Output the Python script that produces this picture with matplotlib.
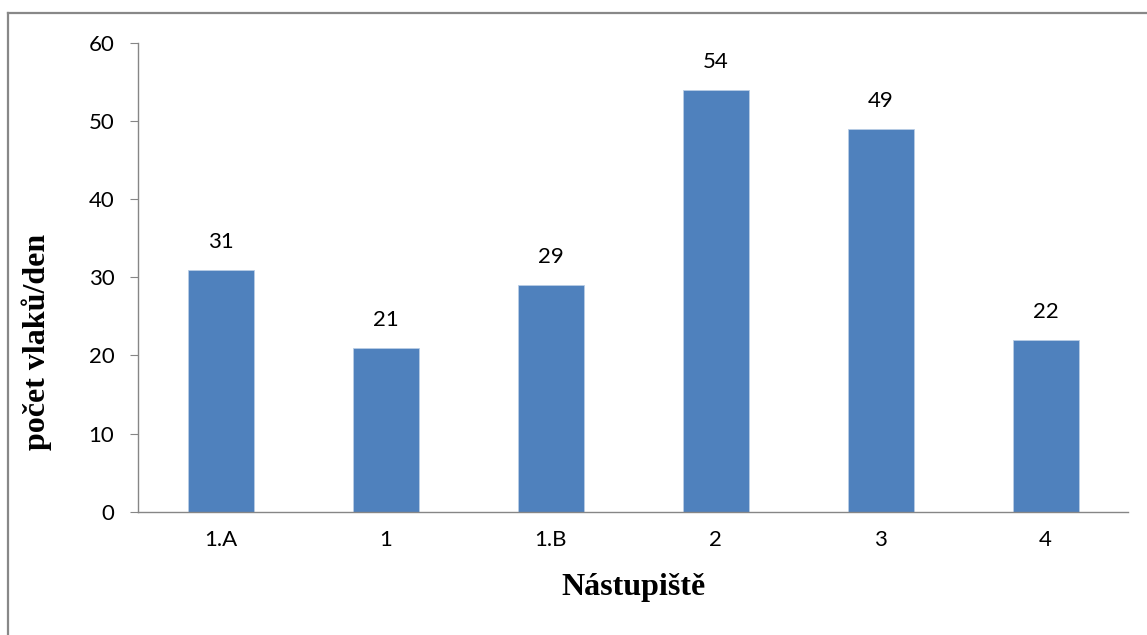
import matplotlib
matplotlib.use("Agg")
import matplotlib.pyplot as plt
from matplotlib.lines import Line2D

categories = ["1.A", "1", "1.B", "2", "3", "4"]
values = [31, 21, 29, 54, 49, 22]
yticks = [0, 10, 20, 30, 40, 50, 60]

W, H, DPI = 1147, 635, 100
fig = plt.figure(figsize=(W / DPI, H / DPI), dpi=DPI)
fig.patch.set_facecolor("white")

# outer chart border (top and left visible)
fig.add_artist(Line2D([8 / W, 8 / W], [0, 1 - 13 / H], transform=fig.transFigure,
                      color="#888888", lw=1.6))
fig.add_artist(Line2D([8 / W, 1], [1 - 13 / H, 1 - 13 / H], transform=fig.transFigure,
                      color="#888888", lw=1.6))

ax = fig.add_axes([138 / W, 1 - 511.7 / H, (1128 - 138) / W, (511.7 - 43) / H])
x = list(range(len(categories)))
ax.bar(x, values, width=0.4, color="#4F81BD", edgecolor="#B9CDE5", linewidth=0.6, zorder=2)
ax.set_xlim(-0.5, len(categories) - 0.5)
ax.set_ylim(0, 60)
ax.set_yticks(yticks)
ax.set_xticks(x)
ax.set_xticklabels(categories)

tick_family = ["Lato", "DejaVu Sans"]
tick_size = 16
for lab in ax.get_xticklabels() + ax.get_yticklabels():
    lab.set_fontfamily(tick_family)
    lab.set_fontsize(tick_size)
    lab.set_color("black")

for s in ["top", "right"]:
    ax.spines[s].set_visible(False)
for s in ["left", "bottom"]:
    ax.spines[s].set_color("#868686")
    ax.spines[s].set_linewidth(1.0)

ax.tick_params(axis="y", length=6, color="#868686", pad=11)
ax.tick_params(axis="x", length=0, pad=13)

for xi, v in zip(x, values):
    ax.annotate(str(v), (xi, v), xytext=(0, 20), textcoords="offset points",
                ha="center", va="center", fontfamily=tick_family, fontsize=tick_size)

label_font = dict(family=["Liberation Serif", "DejaVu Serif"], weight="bold", size=23)
fig.text(633 / W, 1 - 588 / H, "Nástupiště", ha="center", va="center", **label_font)
fig.text(37 / W, 1 - 342 / H, "počet vlaků/den", ha="center", va="center",
         rotation=90, **label_font)

fig.savefig("out.png", dpi=DPI, facecolor="white")
